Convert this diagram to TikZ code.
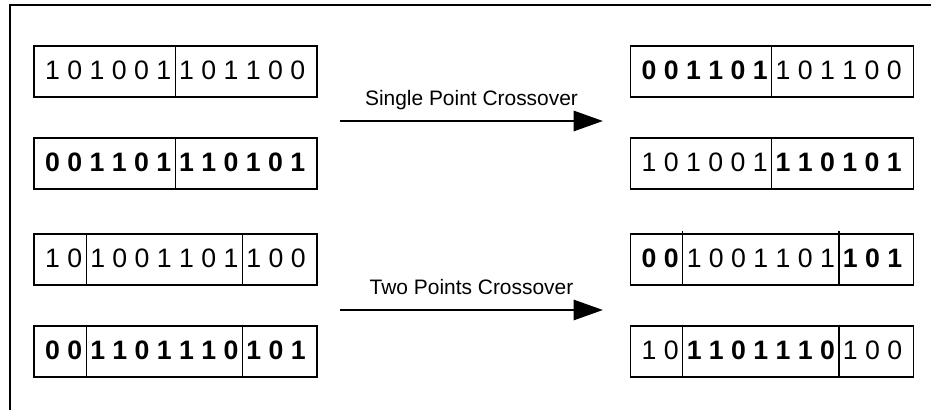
\documentclass[tikz,border=0pt]{standalone}
\usepackage{fontspec}
\setmainfont{Liberation Sans}
\usepackage{tikz}
\usetikzlibrary{positioning,arrows.meta}
\newcommand{\genefont}{\fontsize{20pt}{24pt}\selectfont}
\newcommand{\opfont}{\fontsize{15.7pt}{19pt}\selectfont}
\tikzstyle{chromosome}=[draw=black, line width=1.2pt, minimum width=212.25pt, minimum height=38.6pt, inner sep=0pt]
\tikzstyle{gene}=[inner xsep=2.78pt, inner ysep=0pt, font=\genefont]
\tikzstyle{bold gene}=[gene, font=\genefont\bfseries]
\tikzstyle{cut}=[-, draw=black, line width=0.9pt]
\tikzstyle{crossover}=[draw=black, line width=2.2pt, -{Triangle[length=22pt,width=15pt]}]
\tikzstyle{operator}=[font=\opfont, anchor=base, yshift=12pt]
\pgfdeclarelayer{nodelayer}
\pgfdeclarelayer{edgelayer}
\pgfsetlayers{main,nodelayer,edgelayer}

\begin{document}
\begin{tikzpicture}[x=0.75pt, y=-0.75pt]
	\useasboundingbox (0,0) rectangle (931,410);
	\draw [line width=1.1pt] (10,410) -- (10,5) -- (931,5);
	\begin{pgfonlayer}{nodelayer}
		% parents and offspring
		\node [style=chromosome] (p1) at (175.5, 71.5) {};
		\node [style=chromosome] (p2) at (175.5, 163.5) {};
		\node [style=chromosome] (o1) at (772, 71.5) {};
		\node [style=chromosome] (o2) at (772, 163.5) {};
		\node [style=chromosome] (p3) at (175.5, 259.5) {};
		\node [style=chromosome] (p4) at (175.5, 351.5) {};
		\node [style=chromosome] (o3) at (772, 259.5) {};
		\node [style=chromosome] (o4) at (772, 351.5) {};
		% single point
		\node [style=gene, anchor=base west] (p1a) at ([xshift=6.05pt, yshift=-6pt]p1.west) {1 0 1 0 0 1};
		\node [style=gene, base right=0pt of p1a] (p1b) {1 0 1 1 0 0};
		\node [style=bold gene, anchor=base west] (p2a) at ([xshift=6.05pt, yshift=-6pt]p2.west) {0 0 1 1 0 1};
		\node [style=bold gene, base right=0pt of p2a] (p2b) {1 1 0 1 0 1};
		\node [style=bold gene, anchor=base west] (o1a) at ([xshift=6.05pt, yshift=-6pt]o1.west) {0 0 1 1 0 1};
		\node [style=gene, base right=0pt of o1a] (o1b) {1 0 1 1 0 0};
		\node [style=gene, anchor=base west] (o2a) at ([xshift=6.05pt, yshift=-6pt]o2.west) {1 0 1 0 0 1};
		\node [style=bold gene, base right=0pt of o2a] (o2b) {1 1 0 1 0 1};
		% two points
		\node [style=gene, anchor=base west] (p3a) at ([xshift=6.05pt, yshift=-6pt]p3.west) {1 0};
		\node [style=gene, base right=0pt of p3a] (p3b) {1 0 0 1 1 0 1};
		\node [style=gene, base right=0pt of p3b] (p3c) {1 0 0};
		\node [style=bold gene, anchor=base west] (p4a) at ([xshift=6.05pt, yshift=-6pt]p4.west) {0 0};
		\node [style=bold gene, base right=0pt of p4a] (p4b) {1 1 0 1 1 1 0};
		\node [style=bold gene, base right=0pt of p4b] (p4c) {1 0 1};
		\node [style=bold gene, anchor=base west] (o3a) at ([xshift=6.05pt, yshift=-6pt]o3.west) {0 0};
		\node [style=gene, base right=0pt of o3a] (o3b) {1 0 0 1 1 0 1};
		\node [style=bold gene, base right=0pt of o3b] (o3c) {1 0 1};
		\node [style=gene, anchor=base west] (o4a) at ([xshift=6.05pt, yshift=-6pt]o4.west) {1 0};
		\node [style=bold gene, base right=0pt of o4a] (o4b) {1 1 0 1 1 1 0};
		\node [style=gene, base right=0pt of o4b] (o4c) {1 0 0};
		\coordinate (s0) at (340, 121);
		\coordinate (s1) at (603, 121);
		\coordinate (t0) at (340, 310);
		\coordinate (t1) at (603, 310);
	\end{pgfonlayer}
	\begin{pgfonlayer}{edgelayer}
		\draw [style=cut] (p1.north -| p1a.east) -- (p1.south -| p1a.east);
		\draw [style=cut] (p2.north -| p2a.east) -- (p2.south -| p2a.east);
		\draw [style=cut] (o1.north -| o1a.east) -- (o1.south -| o1a.east);
		\draw [style=cut] (o2.north -| o2a.east) -- (o2.south -| o2a.east);
		\draw [style=cut] (p3.north -| p3a.east) -- (p3.south -| p3a.east);
		\draw [style=cut] (p3.north -| p3b.east) -- (p3.south -| p3b.east);
		\draw [style=cut] (p4.north -| p4a.east) -- (p4.south -| p4a.east);
		\draw [style=cut] (p4.north -| p4b.east) -- (p4.south -| p4b.east);
		\draw [style=cut] ([yshift=1.8pt]o3.north -| o3a.east) -- ([yshift=1.8pt]o3.south -| o3a.east);
		\draw [style=cut] ([yshift=1.8pt]o3.north -| o3b.east) -- ([yshift=1.8pt]o3.south -| o3b.east);
		\draw [style=cut] (o4.north -| o4a.east) -- (o4.south -| o4a.east);
		\draw [style=cut] (o4.north -| o4b.east) -- (o4.south -| o4b.east);
		\draw [style=crossover] (s0) -- node [style=operator] {Single Point Crossover} (s1);
		\draw [style=crossover] (t0) -- node [style=operator] {Two Points Crossover} (t1);
	\end{pgfonlayer}
\end{tikzpicture}
\end{document}
